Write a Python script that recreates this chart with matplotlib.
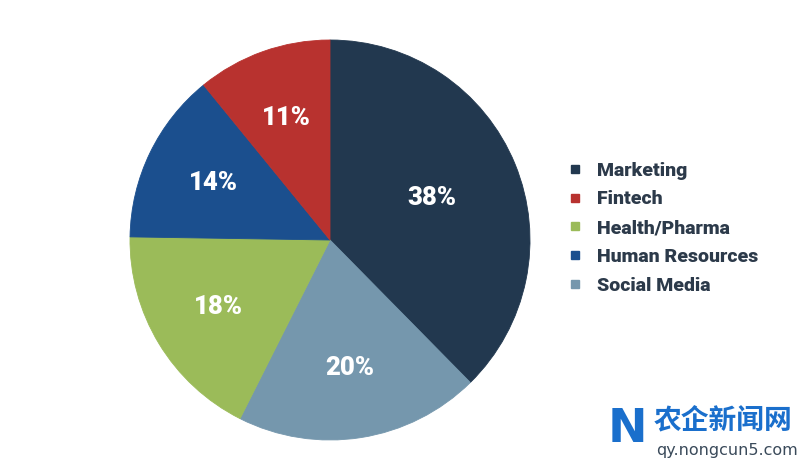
import numpy as np
import matplotlib.pyplot as plt
from matplotlib.lines import Line2D

# data, clockwise from 12 o'clock
labels = ['Marketing', 'Social Media', 'Health/Pharma', 'Human Resources', 'Fintech']
values = [38, 20, 18, 14, 11]
colors = ['#22384f', '#7597ad', '#9bbb59', '#1b4f8e', '#b8322f']
legend_order = ['Marketing', 'Fintech', 'Health/Pharma', 'Human Resources', 'Social Media']

W, H = 800, 467
fig = plt.figure(figsize=(W / 100, H / 100), dpi=100)
fig.patch.set_facecolor('white')

# pie centre at (330, 240) px, radius 200 px
cx, cy, r = 330, 240, 200
ax = fig.add_axes([(cx - r) / W, (H - cy - r) / H, 2 * r / W, 2 * r / H])

wedges, _ = ax.pie(values, colors=colors, startangle=90, counterclock=False,
                   wedgeprops=dict(edgecolor='none', linewidth=0))
for w, c in zip(wedges, colors):
    w.set_edgecolor(c)
    w.set_linewidth(0.6)
ax.set_xlim(-1, 1)
ax.set_ylim(-1, 1)
ax.set_aspect('equal')
ax.axis('off')

label_dist = {'Marketing': 0.55}
for w, lab, v in zip(wedges, labels, values):
    mid = np.deg2rad((w.theta1 + w.theta2) / 2)
    d = label_dist.get(lab, 0.65)
    ax.text(d * np.cos(mid), d * np.sin(mid), f'{v}%', ha='center', va='center',
            color='white', fontsize=18.5, fontweight='black', family='Roboto')

# legend
handles = []
for name in legend_order:
    i = labels.index(name)
    handles.append(Line2D([], [], marker='s', linestyle='none', markersize=6,
                          markerfacecolor=colors[i], markeredgecolor=colors[i]))
leg = fig.legend(handles, legend_order, loc='upper left',
                 bbox_to_anchor=(548 / W, 1 - 144 / H), frameon=False,
                 handletextpad=0.6, labelspacing=0.56, handlelength=1.0,
                 prop=dict(family='Roboto', weight='black', size=14))
for t in leg.get_texts():
    t.set_color('#2c3a4a')

# watermark
fig.text(654 / W, 1 - 420 / H, '农企新闻网', ha='left', va='center', color='#1a6fcc',
         fontsize=20, fontweight='bold', family=['Noto Sans CJK SC', 'DejaVu Sans'])
fig.text(656 / W, 1 - 450 / H, 'qy.nongcun5.com', ha='left', va='center', color='#3a4a5a',
         fontsize=11.5, family='DejaVu Sans')
fig.text(608 / W, 1 - 430 / H, 'N', ha='left', va='center', color='#1a6fcc',
         fontsize=34, fontweight='bold', family='DejaVu Sans')

fig.savefig('out.png', dpi=100)
